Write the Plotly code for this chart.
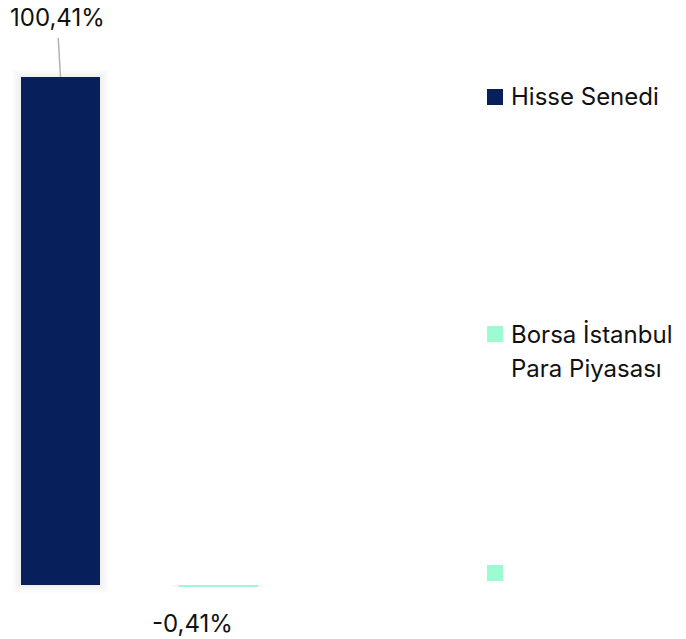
import plotly.graph_objects as go

categories = ["Hisse Senedi", "Borsa İstanbul Para Piyasası"]
values = [100.41, -0.41]
value_labels = ["100,41%", "-0,41%"]
colors = ["#071f5b", "#9dfbd3"]
legend_labels = ["Hisse Senedi", "Borsa İstanbul<br>Para Piyasası", ""]
legend_colors = ["#071f5b", "#9dfbd3", "#9dfbd3"]

OFF = 8  # page body margin
W, H = 686 - OFF, 639 - OFF
FONT = "Inter, Lato, sans-serif"
TXT = "#111111"

# pixel geometry (reference coordinates, shifted by page margin)
cat_px = 158.0
first_center_px = 60.5 - OFF
plot_w_px = 466.0
x0 = -first_center_px / cat_px
x1 = x0 + plot_w_px / cat_px
zero_px = 585.0 - OFF
unit_px = 508.0 / 100.41
y1 = zero_px / unit_px
y0 = -(H - zero_px) / unit_px

fig = go.Figure()

# soft shadow behind bars (layered)
for k in range(1, 6):
    fig.add_trace(go.Bar(
        x=categories,
        y=[v + (k * 0.6 if v > 0 else 0) for v in values],
        base=[-k * 1.6 / unit_px * 1.0 if v > 0 else 0 for v in values],
        width=0.5 + k * 0.022,
        marker=dict(color="rgba(0,0,0,0.012)" if True else None, line=dict(width=0)),
        hoverinfo="skip", showlegend=False,
    ))
fig.add_trace(go.Bar(
    x=categories, y=values, width=0.5,
    marker=dict(color=colors, line=dict(width=0)),
    showlegend=False,
))

fig.update_layout(barmode="overlay")

# value labels
fig.add_annotation(
    x=categories[0], y=values[0], text=value_labels[0],
    showarrow=True, arrowhead=0, arrowwidth=1.5, arrowcolor="#b3b3b3",
    ax=-3.5, ay=-60, startstandoff=5,
    font=dict(family=FONT, size=24, color=TXT),
)
fig.add_annotation(
    x=categories[1], y=values[1], text=value_labels[1],
    showarrow=False, xshift=-26, yshift=-36,
    font=dict(family=FONT, size=24, color=TXT),
)

# custom legend (reference pixel centres of squares)
leg_y_px = [97, 334, 573]
line_gap = 34
for lab, col, yp in zip(legend_labels, legend_colors, leg_y_px):
    yp = yp - OFF
    fig.add_shape(
        type="rect", xref="paper", yref="paper",
        x0=(487 - OFF) / W, x1=(503 - OFF) / W,
        y0=1 - (yp + 8) / H, y1=1 - (yp - 8) / H,
        fillcolor=col, line=dict(width=0),
    )
    if lab:
        for i, line in enumerate(lab.split("<br>")):
            fig.add_annotation(
                xref="paper", yref="paper", x=(509 - OFF) / W,
                y=1 - (yp + i * line_gap) / H,
                xanchor="left", yanchor="middle", align="left",
                text=line, showarrow=False,
                font=dict(family=FONT, size=24, color=TXT),
            )

fig.update_layout(
    width=W, height=H,
    margin=dict(l=0, r=0, t=0, b=0),
    paper_bgcolor="white", plot_bgcolor="white",
    xaxis=dict(domain=[0, plot_w_px / W], range=[x0, x1], visible=False),
    yaxis=dict(range=[y0, y1], visible=False),
    showlegend=False,
)

fig.write_html("out.html")
